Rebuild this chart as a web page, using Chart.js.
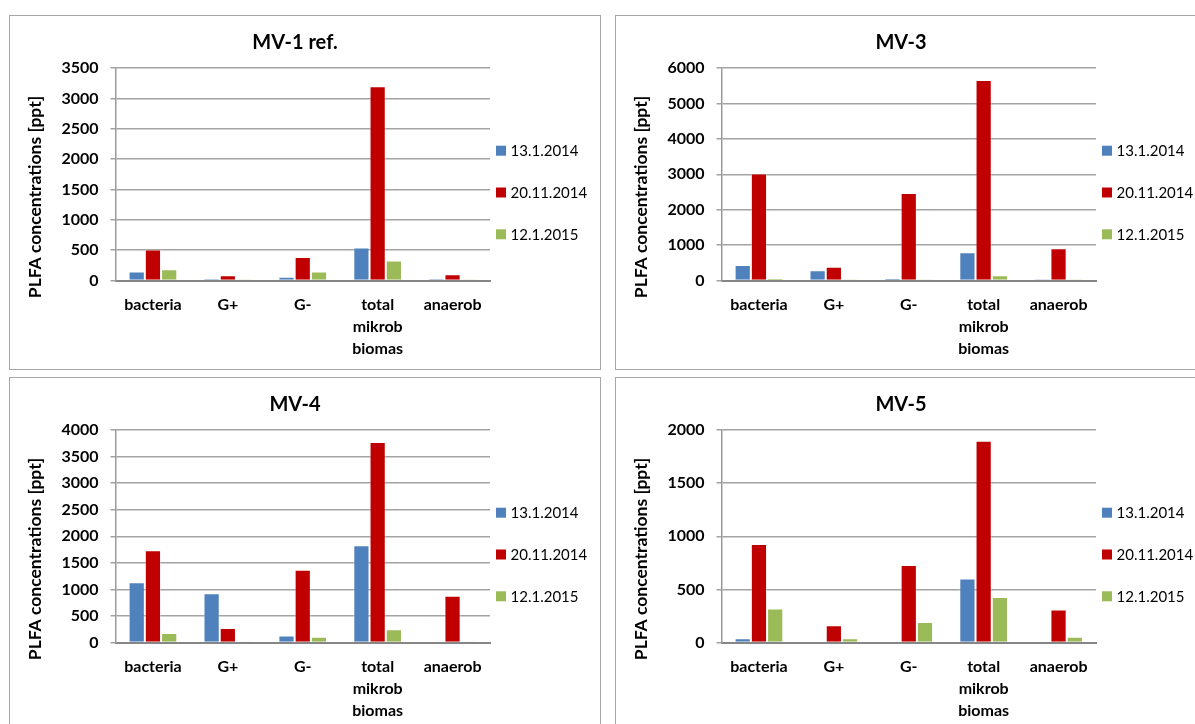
<!DOCTYPE html>
<html>
<head>
<meta charset="utf-8">
<script src="https://cdn.jsdelivr.net/npm/chart.js@4/dist/chart.umd.min.js"></script>
<style>
  html, body { margin: 0; padding: 0; background: #ffffff; overflow: hidden; }
  body { width: 1195px; height: 724px; position: relative; }
  .panel { position: absolute; width: 590px; height: 353px; border: 1px solid #a6a6a6; background: #fff; }
  .panel canvas { display: block; }
</style>
</head>
<body>
<div class="panel" style="left:9px; top:15px;"><canvas id="c1" width="590" height="353"></canvas></div>
<div class="panel" style="left:615px; top:15px;"><canvas id="c2" width="590" height="353"></canvas></div>
<div class="panel" style="left:9px; top:377px;"><canvas id="c3" width="590" height="353"></canvas></div>
<div class="panel" style="left:615px; top:377px;"><canvas id="c4" width="590" height="353"></canvas></div>
<script>
// Sample groups on the x axis
const categories = ['bacteria', 'G+', 'G-', ['total', 'mikrob', 'biomas'], 'anaerob'];
// Sampling dates (one bar series each)
const seriesLabels = ['13.1.2014', '20.11.2014', '12.1.2015'];
const seriesColors = ['#4f81bd', '#c00000', '#9bbb59'];
const yAxisTitle = 'PLFA concentrations [ppt]';

// MV-1 ref. — PLFA concentrations [ppt]
const mv1_jan2014 = [150, 25, 60, 545, 25];
const mv1_nov2014 = [510, 87, 386, 3200, 104];
const mv1_jan2015 = [185, 20, 147, 330, 20];

// MV-3
const mv3_jan2014 = [440, 290, 65, 800, 40];
const mv3_nov2014 = [3020, 390, 2470, 5660, 908];
const mv3_jan2015 = [65, 35, 35, 150, 35];

// MV-4
const mv4_jan2014 = [1135, 925, 134, 1830, 0];
const mv4_nov2014 = [1738, 275, 1368, 3772, 878];
const mv4_jan2015 = [180, 20, 107, 250, 20];

// MV-5
const mv5_jan2014 = [41, 0, 0, 603, 0];
const mv5_nov2014 = [926, 162, 729, 1900, 310];
const mv5_jan2015 = [321, 41, 193, 428, 53];

// Axis ranges and tick steps per panel
const mv1_axis = [0, 3500, 500];
const mv3_axis = [0, 6000, 1000];
const mv4_axis = [0, 4000, 500];
const mv5_axis = [0, 2000, 500];

const FONT = 'Lato, "Liberation Sans", sans-serif';

// Legend drawn to the right of the plot, vertically centred in the panel
const sideLegend = {
  id: 'sideLegend',
  afterDraw(chart) {
    const ctx = chart.ctx;
    const area = chart.chartArea;
    const spacing = 41.8;
    const n = chart.data.datasets.length;
    const cy = chart.height / 2;
    ctx.save();
    ctx.font = '15px ' + FONT;
    ctx.textBaseline = 'middle';
    ctx.textAlign = 'left';
    chart.data.datasets.forEach((ds, i) => {
      const y = cy + (i - (n - 1) / 2) * spacing;
      const bx = area.right + 6;
      ctx.fillStyle = ds.backgroundColor;
      ctx.fillRect(bx, y - 5, 10, 10);
      ctx.fillStyle = '#000';
      ctx.fillText(ds.label, bx + 14.5, y + 0.5);
    });
    ctx.restore();
  }
};

// Rotated value-axis caption, centred on the panel height
const sideTitle = {
  id: 'sideTitle',
  afterDraw(chart) {
    const ctx = chart.ctx;
    ctx.save();
    ctx.translate(25.5, chart.height / 2 + 4.5);
    ctx.rotate(-Math.PI / 2);
    ctx.font = 'bold 17.5px ' + FONT;
    ctx.fillStyle = '#000';
    ctx.textAlign = 'center';
    ctx.textBaseline = 'middle';
    ctx.fillText(yAxisTitle, 0, 0);
    ctx.restore();
  }
};

function makeChart(id, title, series, axis) {
  const datasets = series.map((vals, i) => ({
    label: seriesLabels[i],
    data: vals,
    yAxisID: 'y',
    backgroundColor: seriesColors[i],
    borderColor: 'rgba(255,255,255,0.35)',
    borderWidth: { top: 1, left: 1, right: 1, bottom: 0 },
    borderSkipped: 'bottom',
    categoryPercentage: 0.65,
    barPercentage: 1.0
  }));
  return new Chart(document.getElementById(id), {
    type: 'bar',
    data: { labels: categories, datasets },
    plugins: [sideLegend, sideTitle],
    options: {
      responsive: false,
      animation: false,
      devicePixelRatio: 1,
      layout: { padding: { left: 0, right: 20, top: 0, bottom: 0 } },
      plugins: {
        legend: { display: false },
        tooltip: { enabled: false },
        title: {
          display: true,
          text: title,
          color: '#000',
          font: { family: FONT, size: 20, weight: 'bold', lineHeight: 1.2 },
          padding: { top: 14.5, bottom: 13.5 }
        }
      },
      scales: {
        x: {
          offset: true,
          grid: { display: false, drawTicks: false },
          border: { display: true, color: '#868686', width: 2 },
          ticks: {
            color: '#000',
            padding: 13,
            maxRotation: 0,
            autoSkip: false,
            font: { family: FONT, size: 16, weight: 'bold', lineHeight: 1.375 }
          },
          afterFit(scale) { scale.height = 88.5; }
        },
        y: {
          min: axis[0],
          max: axis[1],
          grid: { color: '#a3a3a3', lineWidth: 1.5, drawTicks: true, tickLength: 5, tickColor: '#a3a3a3' },
          border: { display: true, color: '#9a9a9a', width: 1.5 },
          ticks: {
            stepSize: axis[2],
            color: '#000',
            padding: 12,
            font: { family: FONT, size: 16, weight: 'bold' },
            callback: (v) => String(v)
          },
          afterFit(scale) { scale.width = 105.5; }
        },
        // empty right-hand band that holds the legend column
        legendBand: {
          type: 'linear',
          position: 'right',
          min: 0,
          max: 1,
          grid: { display: false, drawOnChartArea: false, drawTicks: false },
          border: { display: false },
          ticks: { display: false },
          afterFit(scale) { scale.width = 90; }
        }
      }
    }
  });
}

makeChart('c1', 'MV-1 ref.', [mv1_jan2014, mv1_nov2014, mv1_jan2015], mv1_axis);
makeChart('c2', 'MV-3', [mv3_jan2014, mv3_nov2014, mv3_jan2015], mv3_axis);
makeChart('c3', 'MV-4', [mv4_jan2014, mv4_nov2014, mv4_jan2015], mv4_axis);
makeChart('c4', 'MV-5', [mv5_jan2014, mv5_nov2014, mv5_jan2015], mv5_axis);
</script>
</body>
</html>
